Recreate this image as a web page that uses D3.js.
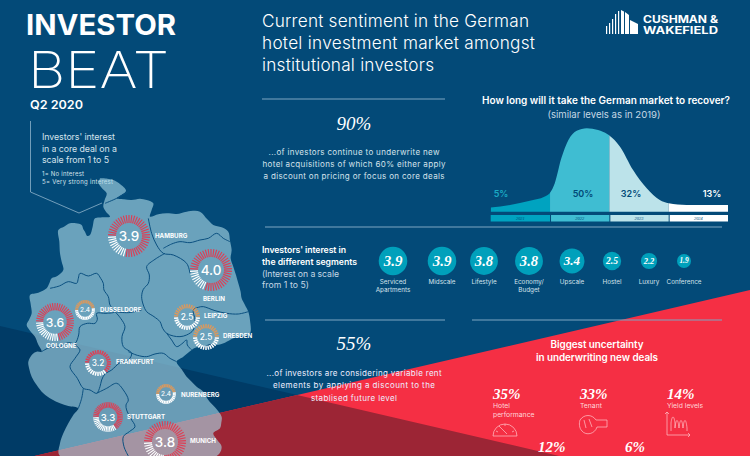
<!DOCTYPE html>
<html>
<head>
<meta charset="utf-8">
<script src="https://cdn.jsdelivr.net/npm/d3@7"></script>
<style>
html,body{margin:0;padding:0;background:#034a78;overflow:hidden}
svg{display:block}
text{font-family:Inter,"Open Sans",sans-serif;fill:#fff}
.serif{font-family:"Liberation Serif",serif;font-style:italic}
</style>
</head>
<body>
<div id="chart"></div>
<script>
// city interest (core deal, 1-5)
const cities = ["HAMBURG","BERLIN","COLOGNE","DUSSELDORF","FRANKFURT","LEIPZIG","DRESDEN","NURENBERG","STUTTGART","MUNICH"];
const cityInterest = [3.9,4.0,3.6,2.4,3.2,2.5,2.5,2.4,3.3,3.8];

// recovery
const recoveryYears = ["2021","2022","2023","2024"];
const recoveryShare = [5,50,32,13];
const curveT = [0,.325,.66,.96,1.08,1.19,1.31,1.45,1.62,1.81,1.97,2.18,2.4,2.63,2.85,3,3.3,4];
const curveH = [5,8,13,20,34,64,86,97,100,98,93,78,50,28,14,10,8,8];

// segments
const segments = [["Serviced","Apartments"],["Midscale"],["Lifestyle"],["Economy/","Budget"],["Upscale"],["Hostel"],["Luxury"],["Conference"]];
const segmentInterest = [3.9,3.9,3.8,3.8,3.4,2.5,2.2,1.9];

// uncertainty
const uncertaintyShare = [35,33,14,12,6];
const uncertaintyLabel = [["Hotel","performance"],["Tenant"],["Yield levels"],[],[]];

// layout only, no values in here: cx, cy, r, label x, label y
const cityPos = [[129,236,21,155,238],[211,270,21,203,301],[55,322,19,46,348],[85,310,10,100,312],[98,363,13,116,364],[187,317,13,204,318],[206,337,13,223,338],[166,394,10,181,397],[108,417,15,127,419],[165,442,21,190,443]];
const segmentX = [393,442,484,529,572,612,649,684];
const uncertaintyPos = [[493,399],[580,399],[667,399],[538,452],[625,452]];

const W = 750, H = 456;
const navy = "#034a78", navyDark = "#003b66", red = "#f52f44", redDark = "#9c2535";
const svg = d3.select("#chart").append("svg").attr("width",W).attr("height",H);

function label(g,x,y,str,size,opt){
	opt = opt || {};
	return g.append("text")
		.attr("x",x).attr("y",y)
		.attr("class",opt.cls||null)
		.attr("text-anchor",opt.anchor||"start")
		.attr("textLength",opt.len||null)
		.attr("lengthAdjust",opt.len?(opt.stretch?"spacingAndGlyphs":"spacing"):null)
		.style("font-size",size+"px")
		.style("font-weight",opt.weight||400)
		.style("fill",opt.fill||"#fff")
		.text(str);
}

// background wedges
function edgeRed(x){ return 406-.232*(x-250); }
function edgeBand(x){ return 326+.2325*x; }
svg.append("rect").attr("width",W).attr("height",H).attr("fill",navy);
svg.append("path").attr("fill",navyDark).attr("d","M0 "+edgeBand(0)+"L"+W+" "+edgeBand(W)+"V"+H+"H0Z");
svg.append("path").attr("fill",red).attr("d","M33 "+edgeRed(33)+"L"+W+" "+edgeRed(W)+"V"+H+"H33Z");
svg.append("clipPath").attr("id","redClip").append("path").attr("d","M33 "+edgeRed(33)+"L"+W+" "+edgeRed(W)+"V"+H+"H33Z");
svg.append("path").attr("fill",redDark).attr("clip-path","url(#redClip)").attr("d","M0 "+edgeBand(0)+"L"+W+" "+edgeBand(W)+"V"+H+"H0Z");

// header
label(svg,26,35,"INVESTOR",28,{weight:700,len:150,stretch:true});
label(svg,28,88,"BEAT",51,{weight:200,len:141,stretch:true});
label(svg,30,109,"Q2 2020",12,{weight:600,len:53,stretch:true});
svg.append("path").attr("d","M30.5 121V192L79 213L102 203").attr("fill","none").attr("stroke","#8fb4cc").attr("stroke-width",.8);
["Investors' interest","in a core deal on a","scale from 1 to 5"].forEach(function(s,i){
	label(svg,42,140+i*11.6,s,8.8,{fill:"#d5e3ec",len:[73,75,67][i]});
});
label(svg,42,176,"1= No interest",6,{fill:"#d5e3ec",len:42});
label(svg,42,184,"5= Very strong interest",6,{fill:"#d5e3ec",len:71});

// map, traced in 3x crop units
const outline = [[300,25],[322,26],[340,30],[360,42],[378,62],[362,76],[350,85],[372,88],[395,90],[420,86],[440,90],[460,100],[455,120],[450,140],[475,133],[500,130],[530,132],[560,125],[600,125],[622,148],[640,165],[665,172],[685,185],[690,212],[695,240],[692,265],[700,290],[708,315],[715,340],[722,365],[725,385],[735,405],[745,425],[750,450],[750,490],[725,498],[700,505],[675,518],[650,525],[630,522],[610,530],[590,532],[575,540],[550,560],[530,575],[545,598],[560,620],[575,635],[590,650],[610,665],[625,690],[645,712],[665,740],[664,758],[660,775],[640,790],[652,810],[665,830],[650,858],[180,858],[180,820],[190,790],[205,760],[220,735],[235,715],[205,708],[180,700],[155,688],[130,670],[110,645],[95,620],[88,598],[85,575],[98,552],[110,545],[125,545],[114,522],[105,500],[90,482],[80,465],[88,448],[95,430],[92,402],[90,375],[115,368],[140,355],[148,340],[155,325],[172,318],[190,300],[185,275],[180,250],[178,215],[175,180],[192,170],[210,160],[228,160],[245,165],[250,178],[255,185],[262,198],[270,195],[278,170],[285,145],[308,142],[330,140],[318,125],[310,110],[314,90],[320,70],[306,55],[295,40]];
const borders = [
	[[315,100],[350,85],[385,65]],
	[[445,145],[455,190],[470,225],[490,250],[520,255],[560,280],[570,310]],
	[[490,235],[515,222],[540,215],[570,218],[600,210],[625,205],[650,190],[670,205],[690,215]],
	[[495,250],[465,268],[440,290],[448,315],[445,340],[430,358],[425,380],[430,405],[440,425],[462,440],[480,455],[488,475],[500,490],[520,498],[540,500],[560,495],[580,480],[585,450],[580,420],[595,412],[610,410],[645,422],[680,430],[715,432],[745,425]],
	[[150,355],[178,348],[205,335],[230,340],[235,325],[240,310],[265,318],[290,310],[302,325],[310,340],[312,360],[325,380],[330,405],[345,425],[318,430],[290,430],[292,448],[285,460],[262,460],[240,470],[236,495],[225,520],[205,518],[180,530],[150,532],[125,545]],
	[[345,425],[362,445],[375,470],[366,500],[370,530],[395,550],[385,570],[360,578],[335,600],[315,612],[305,630],[300,650],[290,670],[270,660],[250,655],[232,625],[210,590],[225,565],[240,540],[232,530],[225,520]],
	[[345,425],[385,428],[425,420]],
	[[385,545],[412,556],[440,560],[465,552],[490,550],[510,565],[530,575]],
	[[500,490],[515,510],[530,530],[545,522],[560,510],[562,525],[575,540]],
	[[290,670],[320,655],[350,640],[370,660],[385,690],[378,705],[380,720],[392,745],[405,770],[388,785],[370,800],[372,830],[385,858]],
	[[250,655],[245,685],[235,715]]
];
const mapLine = d3.line().curve(d3.curveCatmullRom);
const map = svg.append("g").attr("transform","translate(0,170) scale(.3333)");
map.append("path").attr("fill","rgb(169,217,231)").attr("fill-opacity",.62)
	.attr("d",mapLine(outline)+"Z");
map.selectAll(".border").data(borders).join("path").attr("class","border")
	.attr("d",mapLine).attr("fill","none").attr("stroke","#0a4f80").attr("stroke-width",3);

// city gauges
const angle = d3.scaleLinear().domain([0,5]).range([-Math.PI,Math.PI]);
cities.forEach(function(name,i){
	const p = cityPos[i], v = cityInterest[i];
	const g = svg.append("g").attr("transform","translate("+p[0]+","+p[1]+")");
	const big = p[2]>=15;
	const n = big ? 46 : 30;
	const inner = big ? .62 : .68;
	const steps = d3.range(n).map(function(k){return (k+.5)*5/n;});
	const hot = v>=3 ? "#dd3f55" : "#d9995f";
	g.selectAll("line").data(steps).join("line")
		.attr("x1",function(d){return Math.cos(angle(d))*p[2]*inner;})
		.attr("y1",function(d){return Math.sin(angle(d))*p[2]*inner;})
		.attr("x2",function(d){return Math.cos(angle(d))*p[2];})
		.attr("y2",function(d){return Math.sin(angle(d))*p[2];})
		.attr("stroke",function(d){return d<v?hot:"#fff";})
		.attr("stroke-width",big?1.15:1.5);
	label(g,0,p[2]*.24,v.toFixed(1),p[2]*.64,{anchor:"middle",weight:500});
	label(svg,p[3],p[4],name,6.2,{weight:700});
});

// title + logo
["Current sentiment in the German","hotel investment market amongst","institutional investors"].forEach(function(s,i){
	label(svg,262,27+i*22,s,17.2,{weight:300,len:[267,273,172][i]});
});
svg.append("path").attr("fill","#fff").attr("d","M606 26h1.2v8H606ZM609 23h1.2v11H609ZM612 19h1.2v15H612ZM615 14h1.2v20H615ZM618 11h1.2v23H618ZM621 10l3 1.5V34H621ZM625 12l4 3V34h-4ZM630 20l8 4V34h-8Z");
label(svg,643,23,"CUSHMAN &",10,{weight:700,len:75,stretch:true});
label(svg,643,33.5,"WAKEFIELD",10,{weight:700,len:75,stretch:true});

// rules
[[262,445,99],[265,722,227],[265,445,320],[472,722,320]].forEach(function(r){
	svg.append("line").attr("x1",r[0]).attr("x2",r[1]).attr("y1",r[2]).attr("y2",r[2])
		.attr("stroke","#7fa6c2").attr("stroke-width",1);
});

// 90% block
label(svg,354,130,"90%",19,{cls:"serif",anchor:"middle"});
["...of investors continue to underwrite new","hotel acquisitions of which 60% either apply","a discount on pricing or focus on core deals"].forEach(function(s,i){
	label(svg,354,155+i*12,s,8,{anchor:"middle",fill:"#d5e3ec",len:[171,183,181][i]});
});

// recovery curve
label(svg,606,104,"How long will it take the German market to recover?",10,{weight:600,anchor:"middle",len:248});
label(svg,604,118,"(similar levels as in 2019)",9.6,{anchor:"middle",fill:"#c5d8e5",len:113});
const tx = d3.scaleLinear().domain([0,4]).range([490.7,728]);
const hy = d3.scaleLinear().domain([0,100]).range([211.7,128.3]);
const curve = curveT.map(function(t,i){return [t,curveH[i]];});
const area = d3.area().x(function(d){return tx(d[0]);}).y0(hy(0)).y1(function(d){return hy(d[1]);}).curve(d3.curveMonotoneX);
const yearFill = ["#00a3c0","#3fbdd2","#bce3ea","#ffffff"];
const shareX = [501,583,631,712];
recoveryYears.forEach(function(y,i){
	svg.append("clipPath").attr("id","yr"+i).append("rect")
		.attr("x",tx(i)).attr("y",120).attr("width",tx(i+1)-tx(i)).attr("height",100);
	svg.append("path").datum(curve).attr("d",area).attr("fill",yearFill[i]).attr("clip-path","url(#yr"+i+")");
	svg.append("rect").attr("x",tx(i)+(i?1:0)).attr("y",215).attr("width",tx(i+1)-tx(i)-(i?1:0)).attr("height",6.5).attr("fill",yearFill[i]);
	label(svg,(tx(i)+tx(i+1))/2,220.4,y,4.4,{cls:"serif",anchor:"middle",fill:"#024a78"});
	label(svg,shareX[i],197,recoveryShare[i]+"%",9,{weight:600,anchor:"middle",fill:i==0?"#1aa9c4":(i==3?"#fff":"#024a78")});
});

// segments
label(svg,262,253,"Investors' interest in",8.7,{weight:600,len:84});
label(svg,262,265,"the different segments",8.7,{weight:600,len:95});
label(svg,262,277,"(Interest on a scale",8.7,{fill:"#c5d8e5",len:77});
label(svg,262,288,"from 1 to 5)",8.7,{fill:"#c5d8e5",len:47});
const bubbleR = d3.scaleLinear().domain([1.9,3.9]).range([7,14.3]);
segments.forEach(function(s,i){
	const v = segmentInterest[i], r = bubbleR(v);
	svg.append("circle").attr("cx",segmentX[i]).attr("cy",261).attr("r",r).attr("fill","#00a0bb");
	label(svg,segmentX[i],261+r*.34,v.toFixed(1),r*1.05,{cls:"serif",anchor:"middle",weight:700});
	s.forEach(function(t,k){
		label(svg,segmentX[i],284+k*8,t,6.3,{anchor:"middle",fill:"#d5e3ec"});
	});
});

// 55% block
label(svg,354,350,"55%",19,{cls:"serif",anchor:"middle"});
["...of investors are considering variable rent","elements by applying a discount to the","stablised future level"].forEach(function(s,i){
	label(svg,354,376+i*12.4,s,8,{anchor:"middle",fill:"#eef",len:[175,162,86][i]});
});

// uncertainty
label(svg,597,348,"Biggest uncertainty",9.9,{weight:600,anchor:"middle",len:93});
label(svg,597,361,"in underwriting new deals",9.9,{weight:600,anchor:"middle",len:122});
uncertaintyShare.forEach(function(v,i){
	const p = uncertaintyPos[i];
	label(svg,p[0],p[1],v+"%",15,{cls:"serif",weight:700});
	uncertaintyLabel[i].forEach(function(t,k){
		label(svg,p[0],p[1]+8.5+k*9.5,t,6.8,{fill:"#ffd5d9"});
	});
});
// icons
const icon = svg.append("g").attr("fill","none").attr("stroke","#ffc4ca").attr("stroke-width",.7);
icon.append("path").attr("d","M493 436A12 12 0 0 1 517 436Z");
icon.append("path").attr("d","M499 426L507 434M505 424v2M496 431l2 1M514 431l-2 1");
icon.append("path").attr("d","M580 420C584 414 592 414 596 420H607V427H597C595 434 586 436 582 431C579 428 579 423 580 420ZM584 420l2 8M589 419l3 8");
icon.append("path").attr("d","M667 412V435H690M665 414l2-2l2 2M688 433l2 2l-2 2");
icon.append("path").attr("d","M671 431V423C672 415 674 415 675 423V428C676 418 678 418 679 428C680 418 682 418 683 428C684 418 686 418 687 428V431");
</script>
</body>
</html>
